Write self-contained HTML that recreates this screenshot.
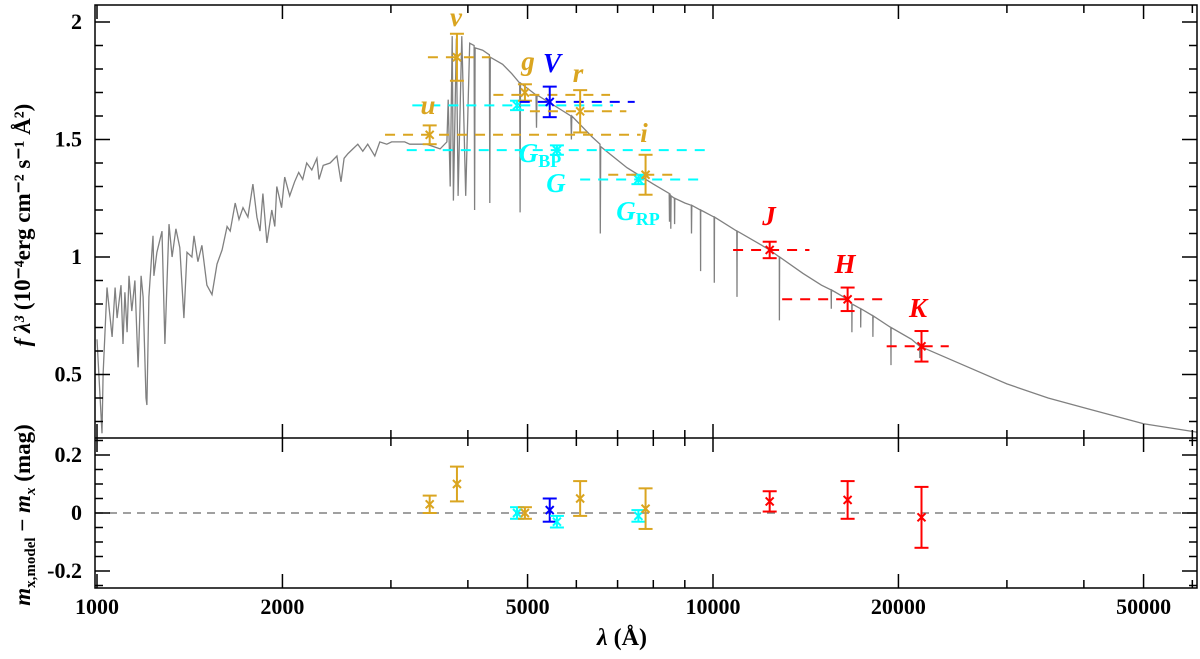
<!DOCTYPE html>
<html><head><meta charset="utf-8"><style>
html,body{margin:0;padding:0;background:#fff;}
svg{display:block;font-family:"Liberation Serif",serif;}
</style></head><body>
<svg id="c" width="1200" height="659" viewBox="0 0 1200 659"></svg>
<script>
// ---- data ----
const specLam=[1000,1019,1023,1038,1058,1070,1078,1094,1102,1110,1119,1127,1139,1152,1166,1179,1188,1201,1205,1214,1233,1237,1251,1275,1289,1309,1324,1343,1363,1384,1400,1426,1437,1458,1480,1508,1537,1566,1596,1626,1645,1676,1700,1726,1758,1791,1818,1839,1859,1887,1922,1944,1958,1994,2017,2055,2093,2125,2157,2190,2232,2275,2293,2329,2390,2452,2489,2518,2555,2603,2651,2701,2751,2825,2878,2954,3008,3077,3159,3220,3345,3429,3606,3699,3716,3745,3773,3790,3832,3857,3910,3968,4028,4095,4102,4110,4228,4335,4342,4350,4555,4714,4855,4862,4870,5160,5170,5180,5640,5880,5890,5900,6370,6555,6563,6572,7250,8000,8490,8498,8506,8535,8542,8550,8655,8662,8670,9000,9220,9229,9238,9540,9546,9552,10040,10049,10058,10930,10938,10946,12360,12810,12818,12826,14000,15000,15550,15560,15570,16540,16800,16810,16820,17360,17370,17380,18170,18180,18190,19440,19450,19460,21000,21655,21665,21675,25000,30000,35000,40500,50000,61000];
const specFlux=[0.65,0.25,0.50,0.87,0.66,0.87,0.74,0.88,0.63,0.85,0.68,0.92,0.77,0.90,0.53,0.92,0.83,0.40,0.37,0.83,1.09,0.92,1.02,1.11,0.63,1.14,1.00,1.12,1.04,0.74,1.02,1.00,1.09,0.98,1.05,0.88,0.84,0.97,1.03,1.13,1.11,1.23,1.16,1.21,1.17,1.31,1.17,1.11,1.27,1.06,1.20,1.13,1.30,1.21,1.34,1.26,1.32,1.36,1.33,1.40,1.37,1.42,1.33,1.39,1.40,1.43,1.32,1.42,1.44,1.46,1.48,1.45,1.48,1.43,1.49,1.48,1.49,1.49,1.49,1.48,1.48,1.48,1.46,1.49,1.67,1.30,1.94,1.24,1.93,1.26,1.94,1.26,1.91,1.90,1.20,1.89,1.88,1.86,1.23,1.85,1.82,1.78,1.74,1.19,1.74,1.69,1.55,1.69,1.63,1.60,1.50,1.60,1.51,1.48,1.10,1.47,1.38,1.31,1.27,1.15,1.27,1.26,1.12,1.26,1.25,1.14,1.25,1.23,1.22,1.10,1.22,1.20,0.94,1.20,1.17,0.89,1.17,1.11,0.83,1.11,1.03,1.00,0.73,1.00,0.93,0.88,0.86,0.78,0.86,0.82,0.80,0.68,0.80,0.78,0.70,0.78,0.75,0.66,0.75,0.70,0.54,0.70,0.65,0.62,0.57,0.62,0.55,0.46,0.40,0.355,0.29,0.255];
const photLam=[3468,3840,4807,4951,5432,5580,6086,7567,7772,12360,16540,21800];
const photFlux=[1.52,1.85,1.645,1.70,1.66,1.455,1.62,1.33,1.35,1.03,0.82,0.62];
const photErr=[0.04,0.10,0.02,0.035,0.065,0.02,0.09,0.02,0.085,0.035,0.05,0.065];
const bandLo=[2935,3445,3250,4400,4856,3183,5044,6086,6760,10780,12950,19140];
const bandHi=[7630,4349,6880,6806,7463,9977,7233,9519,8830,14340,19330,24140];
const lineFlux=[1.52,1.85,1.645,1.69,1.66,1.455,1.62,1.33,1.35,1.03,0.82,0.62];
const resid=[0.03,0.10,0.00,0.00,0.01,-0.03,0.05,-0.01,0.015,0.04,0.045,-0.015];
const residErr=[0.03,0.06,0.02,0.02,0.04,0.02,0.06,0.02,0.07,0.035,0.065,0.105];
const photColor=['#daa520','#daa520','#00ffff','#daa520','#0000ff','#00ffff','#daa520','#00ffff','#daa520','#ff0000','#ff0000','#ff0000'];
const xTicks=[1000,2000,5000,10000,20000,50000];
const yTicks=[0.5,1,1.5,2];
const rTicks=[-0.2,0,0.2];

// ---- axes ----
const L=95,R=1197,T=5,M=438,B=588;
const X=l=>97+(Math.log10(l)-3)*616;
const Y=f=>22+(2-f)*235;
const YR=v=>513-v*290;
const svg=document.getElementById('c');
const NS='http://www.w3.org/2000/svg';
function el(tag,attrs,parent){const e=document.createElementNS(NS,tag);for(const k in attrs)e.setAttribute(k,attrs[k]);(parent||svg).appendChild(e);return e;}

const defs=el('defs',{});
const cp1=el('clipPath',{id:'cp1'},defs);el('rect',{x:L,y:T,width:R-L,height:M-T},cp1);

// spectrum
let d='';
for(let i=0;i<specLam.length;i++){d+=(i?'L':'M')+X(specLam[i]).toFixed(1)+' '+Y(specFlux[i]).toFixed(1);}
const sp=el('path',{d:d,fill:'none',stroke:'#808080','stroke-width':1.3,'clip-path':'url(#cp1)'});



// zero line lower
const zl=el('line',{x1:L,x2:R,y1:YR(0),y2:YR(0),stroke:'#808080','stroke-width':1.5,'stroke-dasharray':'8,6'});



// photometry
for(let i=0;i<photLam.length;i++){
  const c=photColor[i],x=X(photLam[i]);
  const g=el('g',{stroke:c,'stroke-width':2,fill:'none'});
  
  
  el('line',{x1:X(bandLo[i]),x2:X(bandHi[i]),y1:Y(lineFlux[i]),y2:Y(lineFlux[i]),'stroke-dasharray':'10,8'},g);
  const y=Y(photFlux[i]),e1=Y(photFlux[i]+photErr[i]),e2=Y(photFlux[i]-photErr[i]);
  el('line',{x1:x,x2:x,y1:e1,y2:e2},g);
  el('line',{x1:x-7,x2:x+7,y1:e1,y2:e1},g);el('line',{x1:x-7,x2:x+7,y1:e2,y2:e2},g);
  el('path',{d:`M${x-4} ${y-4}L${x+4} ${y+4}M${x-4} ${y+4}L${x+4} ${y-4}`},g);
  const r=el('g',{stroke:c,'stroke-width':2,fill:'none'});
  
  
  const ry=YR(resid[i]),r1=YR(resid[i]+residErr[i]),r2=YR(resid[i]-residErr[i]);
  el('line',{x1:x,x2:x,y1:r1,y2:r2},r);
  el('line',{x1:x-7,x2:x+7,y1:r1,y2:r1},r);el('line',{x1:x-7,x2:x+7,y1:r2,y2:r2},r);
  el('path',{d:`M${x-4} ${ry-4}L${x+4} ${ry+4}M${x-4} ${ry+4}L${x+4} ${ry-4}`},r);
}

// band labels
const labs=[['v',456,26,'#daa520'],['g',528,70,'#daa520'],['V',552,72,'#0000ff'],['r',578,82,'#daa520'],['u',428,114,'#daa520'],['i',644,142,'#daa520'],['J',769,225,'#ff0000'],['H',845,273,'#ff0000'],['K',918,317,'#ff0000'],['G',556,192,'#00ffff']];
for(const [t,x,y,c] of labs){const e=el('text',{x:x,y:y,fill:c,'font-size':27,'font-weight':'bold','font-style':'italic','text-anchor':'middle'});e.textContent=t;

}
function subLab(x,y,sub,name){const e=el('text',{x:x,y:y,fill:'#00ffff','font-size':27,'font-weight':'bold','font-style':'italic','text-anchor':'middle'});


const a=el('tspan',{},e);a.textContent='G';const b=el('tspan',{'font-size':18,'font-style':'normal',dy:5},e);b.textContent=sub;}
subLab(540,162,'BP','band-label-gbp');subLab(638,220,'RP','band-label-grp');

// frame
const fr=el('g',{stroke:'#000','stroke-width':1.5,fill:'none'});


el('rect',{x:L,y:T,width:R-L,height:B-T},fr);
el('line',{x1:L,x2:R,y1:M,y2:M},fr);

// x ticks
let minors=[];
for(let dec=1000;dec<=10000;dec*=10)for(let k=1;k<10;k++){const v=dec*k;if(v>=1000&&v<=61000)minors.push(v);}
const tk=el('g',{stroke:'#000','stroke-width':1.5});
for(const v of minors){const x=X(v);const maj=xTicks.includes(v);const len=maj?14:8;
  el('line',{x1:x,x2:x,y1:B,y2:B-len},tk);el('line',{x1:x,x2:x,y1:T,y2:T+len},tk);
  el('line',{x1:x,x2:x,y1:M,y2:M-len},tk);el('line',{x1:x,x2:x,y1:M,y2:M+len},tk);}
for(const v of xTicks){const e=el('text',{x:X(v),y:614,'font-size':22,'font-weight':'bold','text-anchor':'middle'});e.textContent=String(v);

}
for(let v=0.3;v<=2.05;v+=0.1){const y=Y(v);const maj=Math.abs(v*2-Math.round(v*2))<1e-6;const len=maj?15:8;
  el('line',{x1:L,x2:L+len,y1:y,y2:y},tk);el('line',{x1:R,x2:R-len,y1:y,y2:y},tk);}
for(const v of yTicks){const e=el('text',{x:82,y:Y(v)+7,'font-size':22,'font-weight':'bold','text-anchor':'end'});e.textContent=String(v);

}
for(let v=-0.25;v<=0.251;v+=0.05){const y=YR(v);const maj=Math.abs(v*10-Math.round(v*10))<1e-6&&Math.round(v*10)%2==0;const len=maj?15:8;
  el('line',{x1:L,x2:L+len,y1:y,y2:y},tk);el('line',{x1:R,x2:R-len,y1:y,y2:y},tk);}
for(const v of rTicks){const e=el('text',{x:82,y:YR(v)+7,'font-size':22,'font-weight':'bold','text-anchor':'end'});e.textContent=String(v);

}

// axis titles
const xt=el('text',{x:622,y:645,'font-size':24,'font-weight':'bold','text-anchor':'middle'});


const xa=el('tspan',{'font-style':'italic'},xt);xa.textContent='λ';const xb=el('tspan',{},xt);xb.textContent=' (Å)';
const yt=el('text',{x:0,y:0,'font-size':23,'font-weight':'bold','text-anchor':'middle',transform:'translate(30,225) rotate(-90)'});


const ya=el('tspan',{'font-style':'italic'},yt);ya.textContent='f λ³';const yb=el('tspan',{},yt);yb.textContent=' (10⁻⁴erg cm⁻² s⁻¹ Å²)';
const rt=el('text',{x:0,y:0,'font-size':23,'font-weight':'bold','text-anchor':'middle',transform:'translate(30,515) rotate(-90)'});


const r1=el('tspan',{'font-style':'italic'},rt);r1.textContent='m';
const r2=el('tspan',{'font-size':15,dy:5},rt);r2.textContent='x,model';
const r3=el('tspan',{dy:-5},rt);r3.textContent=' − ';
const r4=el('tspan',{'font-style':'italic'},rt);r4.textContent='m';
const r5=el('tspan',{'font-size':15,'font-style':'italic',dy:5},rt);r5.textContent='x';
const r6=el('tspan',{dy:-5},rt);r6.textContent=' (mag)';
</script>
</body></html>
